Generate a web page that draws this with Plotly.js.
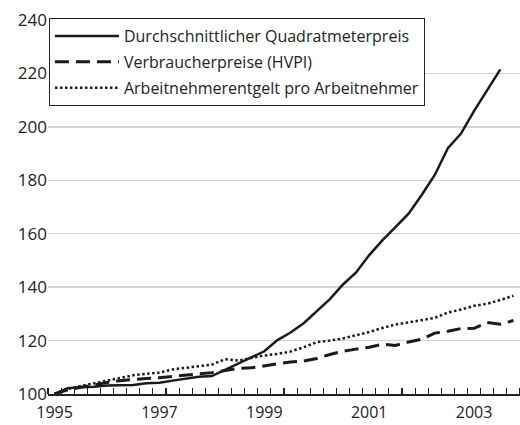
<!DOCTYPE html>
<html>
<head>
<meta charset="utf-8">
<script src="https://cdn.plot.ly/plotly-3.0.1.min.js"></script>
<style>html,body{margin:0;padding:0;background:#fff}#chart{width:520px;height:425px}</style>
</head>
<body>
<div id="chart"></div>
<script>
// Quarterly index values, 1995 Q1 = 100
const quarters = Array.from({length: 36}, (_, i) => (1995 + Math.floor(i / 4)) + "Q" + (i % 4 + 1));
const seriesNames = ["Durchschnittlicher Quadratmeterpreis", "Verbraucherpreise (HVPI)", "Arbeitnehmerentgelt pro Arbeitnehmer"];
const quadratmeterpreis = [100, 102.2, 102.5, 102.7, 103.2, 103.3, 103.4, 104.0, 104.2, 105.0, 105.8, 106.5,
  106.7, 109.0, 111.3, 113.5, 116.0, 120.2, 123.0, 126.5, 131.0, 135.5, 141.0, 145.5,
  152.0, 157.5, 162.5, 167.5, 174.5, 182.0, 192.0, 197.5, 206.0, 214.0, 221.5];
const hvpi = [100, 101.6, 102.5, 103.5, 104.3, 105.0, 105.5, 105.8, 106.1, 106.5, 107.0, 107.5,
  108.0, 108.8, 109.6, 109.8, 110.5, 111.3, 112.0, 112.3, 113.3, 114.8, 116.0, 116.8,
  117.5, 118.6, 118.2, 119.5, 120.5, 122.8, 123.5, 124.5, 124.6, 126.8, 126.1, 127.5];
const entgelt = [100, 101.8, 103.0, 104.0, 104.8, 106.0, 107.0, 107.6, 108.0, 109.2, 109.8, 110.4,
  111.0, 113.0, 112.5, 113.5, 114.4, 115.0, 115.9, 117.5, 119.4, 120.0, 120.8, 122.0,
  123.2, 124.7, 126.0, 126.8, 127.6, 128.5, 130.5, 131.6, 133.0, 133.8, 135.2, 136.8];
const yearTickIdx = [0, 8, 16, 24, 32];
const yearTickLabels = ["1995", "1997", "1999", "2001", "2003"];

const idx = arr => arr.map((_, i) => i);
const lineColor = "#1a1a1a";
const traces = [
  {x: idx(quadratmeterpreis), y: quadratmeterpreis, name: seriesNames[0], legendgroup: "a",
   mode: "lines", line: {color: lineColor, width: 2.5}},
  {x: idx(hvpi), y: hvpi, name: seriesNames[1], legendgroup: "b",
   mode: "lines", line: {color: lineColor, width: 3, dash: "14px,7px"}},
  {x: idx(entgelt), y: entgelt, name: seriesNames[2], legendgroup: "c",
   mode: "lines", line: {color: lineColor, width: 2.5, dash: "2.5px,2.5px"}}
];
const font = "Open Sans, sans-serif";
const layout = {
  width: 520, height: 425,
  margin: {l: 48, r: 0, t: 20, b: 31},
  paper_bgcolor: "#fff", plot_bgcolor: "#fff",
  font: {family: font, size: 16, color: "#222"},
  showlegend: true,
  legend: {
    x: 0.002, y: 1.005, xanchor: "left", yanchor: "top",
    bgcolor: "#fff", bordercolor: "#222", borderwidth: 1,
    font: {family: font, size: 16, color: "#222"},
    traceorder: "grouped", tracegroupgap: 2, itemwidth: 64
  },
  xaxis: {
    range: [-0.5, 35.5], tickmode: "array", tickvals: yearTickIdx, ticktext: yearTickLabels,
    ticks: "", showgrid: false, zeroline: false,
    showline: true, linecolor: "#222", linewidth: 1.5,
    tickfont: {size: 16, color: "#222"}, ticklabelstandoff: 3,
    minor: {tickmode: "linear", tick0: -0.5, dtick: 1, ticks: "inside", ticklen: 6,
            tickcolor: "#222", tickwidth: 1.2, showgrid: false}
  },
  yaxis: {
    range: [100, 240], tickmode: "array", tickvals: [100, 120, 140, 160, 180, 200, 220, 240],
    showgrid: true, gridcolor: "#d4d4d4", gridwidth: 1.5, zeroline: false,
    showline: false, ticks: "", tickfont: {size: 17, color: "#222"}
  }
};
Plotly.newPlot("chart", traces, layout, {displayModeBar: false, staticPlot: true});
</script>
</body>
</html>
